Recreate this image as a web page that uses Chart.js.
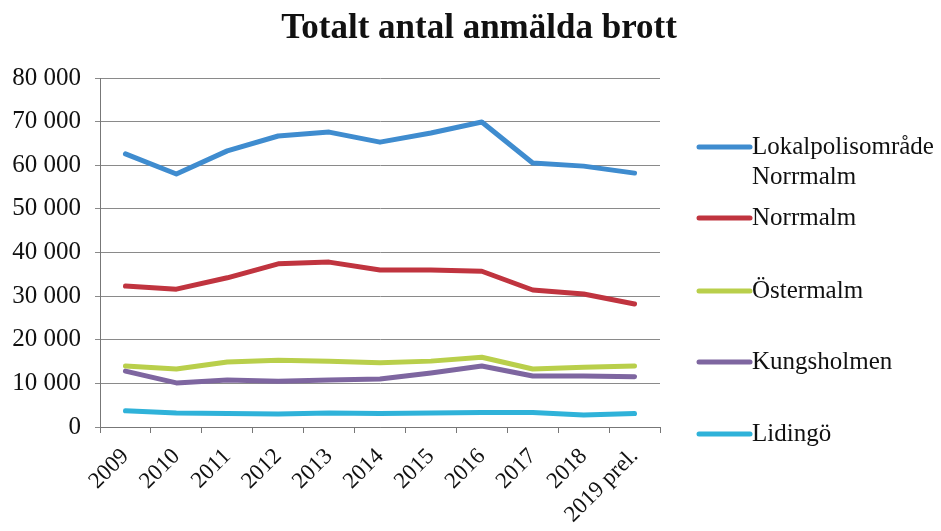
<!DOCTYPE html>
<html>
<head>
<meta charset="utf-8">
<script src="https://cdn.jsdelivr.net/npm/chart.js@4"></script>
<style>
  html, body { margin: 0; padding: 0; background: #fff; }
  #wrap { width: 941px; height: 531px; }
</style>
</head>
<body>
<div id="wrap"><canvas id="chart" width="941" height="531"></canvas></div>
<script>
const years = ['2009', '2010', '2011', '2012', '2013', '2014', '2015', '2016', '2017', '2018', '2019 prel.'];
const lokalpolisomrade = [62600, 58000, 63300, 66700, 67600, 65300, 67400, 69900, 60500, 59800, 58200];
const norrmalm = [32300, 31600, 34200, 37400, 37800, 36000, 36000, 35700, 31400, 30500, 28200];
const ostermalm = [14000, 13300, 14900, 15300, 15100, 14700, 15100, 16000, 13300, 13700, 14000];
const kungsholmen = [12800, 10100, 10800, 10500, 10800, 11000, 12400, 14000, 11700, 11700, 11500];
const lidingo = [3700, 3200, 3100, 3000, 3200, 3100, 3200, 3300, 3300, 2750, 3100];
const seriesNames = [['Lokalpolisområde', 'Norrmalm'], 'Norrmalm', 'Östermalm', 'Kungsholmen', 'Lidingö'];
const colors = ['#3f8ccf', '#c0343f', '#b9cf4b', '#7e66a0', '#2fb2d9'];
const titleText = 'Totalt antal anmälda brott';

const FONT = '"Liberation Serif", "DejaVu Serif", serif';
const legendRows = [147, 218, 291, 362, 434];

// title and legend drawn by hand so the placement follows the original
const sideLegend = {
  id: 'sideLegend',
  afterDraw(chart) {
    const ctx = chart.ctx;
    ctx.save();
    ctx.fillStyle = '#111';
    ctx.font = 'bold 35px ' + FONT;
    ctx.textAlign = 'center';
    ctx.textBaseline = 'alphabetic';
    ctx.fillText(titleText, 479, 38);
    ctx.textAlign = 'left';
    chart.data.datasets.forEach((ds, i) => {
      const y = legendRows[i];
      ctx.strokeStyle = ds.borderColor;
      ctx.lineWidth = 5;
      ctx.lineCap = 'round';
      ctx.beginPath();
      ctx.moveTo(699, y);
      ctx.lineTo(750, y);
      ctx.stroke();
      ctx.fillStyle = '#111';
      ctx.font = '25px ' + FONT;
      ctx.textBaseline = 'middle';
      const lines = Array.isArray(ds.label) ? ds.label : [ds.label];
      lines.forEach((t, k) => ctx.fillText(t, 752, y + k * 30));
    });
    ctx.restore();
  }
};

const sets = [lokalpolisomrade, norrmalm, ostermalm, kungsholmen, lidingo].map((data, i) => ({
  label: seriesNames[i],
  data: data,
  borderColor: colors[i],
  backgroundColor: colors[i],
  borderWidth: 5,
  pointRadius: 0,
  tension: 0,
  borderCapStyle: 'round',
  borderJoinStyle: 'round'
}));

new Chart(document.getElementById('chart'), {
  type: 'line',
  data: { labels: years, datasets: sets },
  plugins: [sideLegend],
  options: {
    responsive: false,
    animation: false,
    layout: { padding: { left: 0, right: 0, top: 78, bottom: 0 } },
    plugins: {
      legend: { display: false },
      tooltip: { enabled: false },
      title: { display: false }
    },
    scales: {
      x: {
        offset: true,
        grid: { display: true, drawOnChartArea: false, drawTicks: true, tickLength: 6, color: '#777', offset: true },
        border: { color: '#777' },
        ticks: {
          color: '#111',
          font: { family: FONT, size: 23 },
          maxRotation: 45,
          minRotation: 45,
          autoSkip: false,
          padding: 10
        },
        afterFit(scale) { scale.height = 104; }
      },
      y: {
        min: 0,
        max: 80000,
        ticks: {
          stepSize: 10000,
          color: '#111',
          font: { family: FONT, size: 25 },
          padding: 14,
          callback: (v) => String(v).replace(/\B(?=(\d{3})+(?!\d))/g, ' ')
        },
        grid: { color: '#8a8a8a', tickLength: 5 },
        border: { color: '#777' },
        afterFit(scale) { scale.width = 100; }
      },
      // empty axis that keeps room for the legend on the right
      yRight: {
        position: 'right',
        display: true,
        grid: { display: false },
        border: { display: false },
        ticks: { display: false },
        afterFit(scale) { scale.width = 281; }
      }
    }
  }
});
</script>
</body>
</html>
